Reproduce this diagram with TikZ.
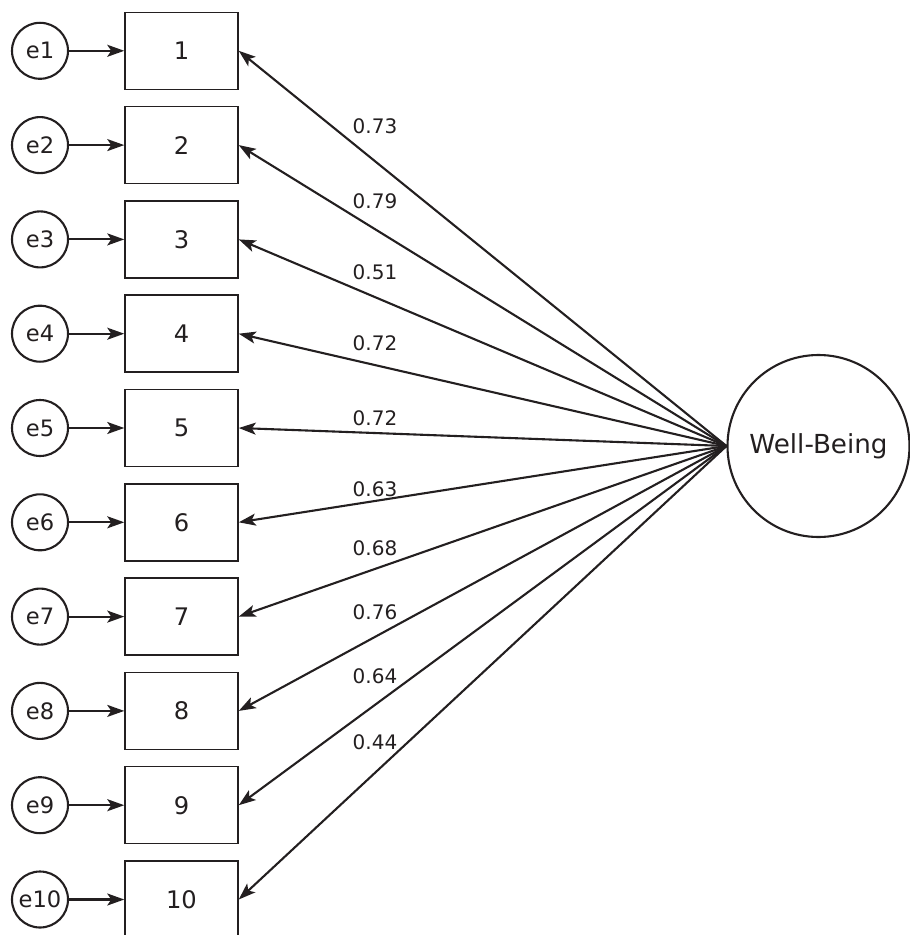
\documentclass[tikz,border=0pt]{standalone}
\usepackage{fontspec}
\setmainfont{DejaVu Sans}
\usepackage{xcolor}
\usetikzlibrary{shapes.geometric, arrows.meta, positioning}
\definecolor{ink}{HTML}{231F20}
\tikzset{
	item/.style={rectangle, draw=ink, line width=0.75pt, minimum width=56.5pt, minimum height=38.5pt, text=ink, font=\fontsize{12.1}{14}\selectfont},
	err/.style={circle, draw=ink, line width=1.05pt, minimum size=28pt, inner sep=0pt, text=ink, font=\fontsize{11.3}{13}\selectfont},
	latent/.style={circle, draw=ink, line width=1.05pt, minimum size=91pt, inner sep=0pt, text=ink, font=\fontsize{13.1}{15}\selectfont},
	load/.style={text=ink, font=\fontsize{10}{12}\selectfont, inner sep=0pt},
	line/.style={draw=ink, line width=1.05pt, -{Stealth[length=8.5pt, width=6pt, inset=2pt]}}
}

\begin{document}
\begin{tikzpicture}[x=0.5pt, y=-0.5pt, node distance=47.15pt]
		\useasboundingbox (0,0) rectangle (909,935);
		
		% Indicator items (column of boxes)
		\node[item] (b1) at (181.5,50.8) {1};
		\node[item, below of=b1] (b2) {2};
		\node[item, below of=b2] (b3) {3};
		\node[item, below of=b3] (b4) {4};
		\node[item, below of=b4] (b5) {5};
		\node[item, below of=b5] (b6) {6};
		\node[item, below of=b6] (b7) {7};
		\node[item, below of=b7] (b8) {8};
		\node[item, below of=b8] (b9) {9};
		\node[item, below of=b9] (b10) {10};
		
		% Error terms
		\node[err, left of=b1, node distance=70.75pt] (e1) {e1};
		\node[err, left of=b2, node distance=70.75pt] (e2) {e2};
		\node[err, left of=b3, node distance=70.75pt] (e3) {e3};
		\node[err, left of=b4, node distance=70.75pt] (e4) {e4};
		\node[err, left of=b5, node distance=70.75pt] (e5) {e5};
		\node[err, left of=b6, node distance=70.75pt] (e6) {e6};
		\node[err, left of=b7, node distance=70.75pt] (e7) {e7};
		\node[err, left of=b8, node distance=70.75pt] (e8) {e8};
		\node[err, left of=b9, node distance=70.75pt] (e9) {e9};
		\node[err, left of=b10, node distance=70.75pt] (e10) {e10};
		
		% Latent factor
		\node[latent] (wb) at (818.5,446) {Well-Being};
		
		% Loadings
		\node[load] (l1) at (375,126) {0.73};
		\node[load] (l2) at (375,201.7) {0.79};
		\node[load] (l3) at (375,272) {0.51};
		\node[load] (l4) at (375,343) {0.72};
		\node[load] (l5) at (375,418) {0.72};
		\node[load] (l6) at (375,489) {0.63};
		\node[load] (l7) at (375,548) {0.68};
		\node[load] (l8) at (375,612) {0.76};
		\node[load] (l9) at (375,676) {0.64};
		\node[load] (l10) at (375,742) {0.44};
		
		% Arrows from error terms
		\draw[line] (e1) -- (b1);
		\draw[line] (e2) -- (b2);
		\draw[line] (e3) -- (b3);
		\draw[line] (e4) -- (b4);
		\draw[line] (e5) -- (b5);
		\draw[line] (e6) -- (b6);
		\draw[line] (e7) -- (b7);
		\draw[line] (e8) -- (b8);
		\draw[line] (e9) -- (b9);
		\draw[line] (e10) -- (b10);
		
		% Arrows from the factor
		\draw[line] (wb.west) -- (b1.east);
		\draw[line] (wb.west) -- (b2.east);
		\draw[line] (wb.west) -- (b3.east);
		\draw[line] (wb.west) -- (b4.east);
		\draw[line] (wb.west) -- (b5.east);
		\draw[line] (wb.west) -- (b6.east);
		\draw[line] (wb.west) -- (b7.east);
		\draw[line] (wb.west) -- (b8.east);
		\draw[line] (wb.west) -- (b9.east);
		\draw[line] (wb.west) -- (b10.east);
		
	\end{tikzpicture}
\end{document}
